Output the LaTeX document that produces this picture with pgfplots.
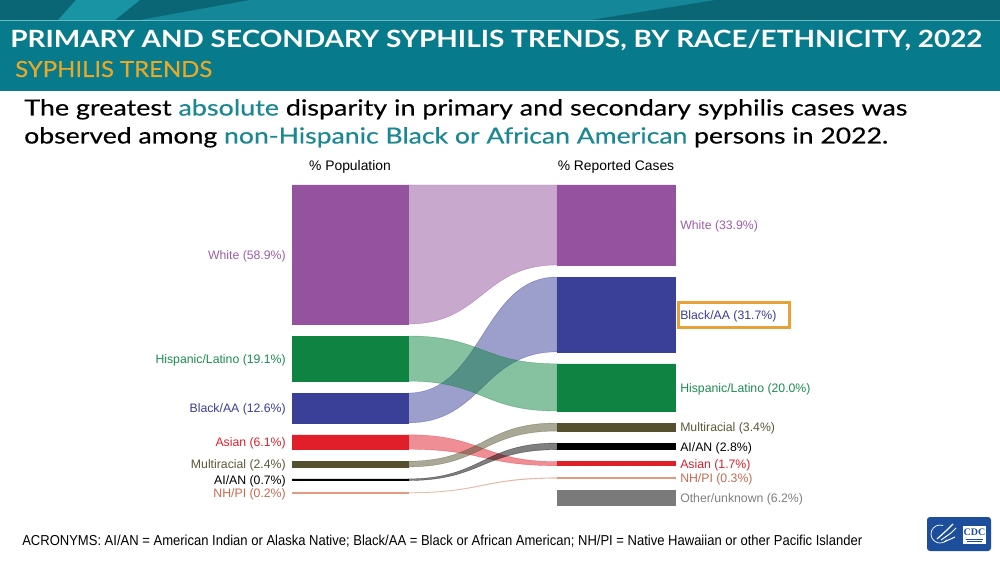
\documentclass[border=0pt]{standalone}
\usepackage{pgfplots}
\pgfplotsset{compat=1.18}
\usepackage{graphicx}
\usepackage{fontspec}
\setmainfont{Liberation Sans}
\newfontfamily\latofont{Lato}
\newfontfamily\latomed[FakeBold=0.35]{Lato}
\newfontfamily\seriffont{Liberation Serif}

% one pixel of the 1000 x 563 canvas
\newdimen\px \px=0.75pt

% colours
\definecolor{hdr}{HTML}{077B8C}
\definecolor{hdrtop}{HTML}{0A6674}
\definecolor{hdrlight}{HTML}{1894A4}
\definecolor{hdrline}{HTML}{6CB9C3}
\definecolor{gold}{HTML}{E9A827}
\definecolor{hlteal}{HTML}{1A8893}
\definecolor{cWhite}{HTML}{95529F}
\definecolor{cHisp}{HTML}{0F8442}
\definecolor{cBlack}{HTML}{3A3F98}
\definecolor{cAsian}{HTML}{E11F2B}
\definecolor{cMulti}{HTML}{55512F}
\definecolor{cAIAN}{HTML}{000000}
\definecolor{cNHPI}{HTML}{E09A82}
\definecolor{cOther}{HTML}{7A7A7A}
\definecolor{lWhite}{HTML}{9C5FA8}
\definecolor{lHisp}{HTML}{1E8C52}
\definecolor{lBlack}{HTML}{3B3F96}
\definecolor{lAsian}{HTML}{D8232F}
\definecolor{lMulti}{HTML}{5B5739}
\definecolor{lNHPI}{HTML}{C66B52}
\definecolor{lOther}{HTML}{808080}
\definecolor{boxor}{HTML}{E8A137}
\definecolor{cdcblue}{HTML}{1C4E9B}

% vertical layout of a sankey column: pixels per percent and gap between nodes
\def\pxper{2.36}
\def\gapy{12}
\newcommand\stackcol[2]{%
  \gdef\cur{185}%
  \foreach \n/\p in {#2} {%
    \pgfmathsetmacro\ta{\cur}%
    \pgfmathsetmacro\tb{\cur+\p*\pxper}%
    \pgfmathsetmacro\tm{(\ta+\tb)/2+1.5}%
    \expandafter\xdef\csname #1\n T\endcsname{\ta}%
    \expandafter\xdef\csname #1\n B\endcsname{\tb}%
    \expandafter\xdef\csname #1\n M\endcsname{\tm}%
    \pgfmathsetmacro\tc{\tb+\gapy}%
    \xdef\cur{\tc}%
  }%
}
% % population (left) and % reported cases (right)
\stackcol{L}{White/58.9, Hisp/19.1, Black/12.6, Asian/6.1, Multi/2.4, AIAN/0.7, NHPI/0.2}
\stackcol{R}{White/33.9, Black/31.7, Hisp/20.0, Multi/3.4, AIAN/2.8, Asian/1.7, NHPI/0.3, Other/6.2}

% a node bar: x-left, x-right, key, colour
\newcommand\sbar[4]{%
  \edef\tmp{\noexpand\addplot[fill=#4, draw=#4, line width=0.3pt] coordinates {(#1,\csname #3T\endcsname) (#2,\csname #3T\endcsname) (#2,\csname #3B\endcsname) (#1,\csname #3B\endcsname) (#1,\csname #3T\endcsname)};}\tmp}

% a flow band from a left node to a right node
\newcommand\flow[3]{%
  \edef\tmp{\noexpand\fill[#3, fill opacity=0.5, draw=#3, draw opacity=0.5, line width=0.3pt]
   (axis cs:408,\csname L#1T\endcsname) .. controls (axis cs:482.5,\csname L#1T\endcsname) and (axis cs:482.5,\csname R#2T\endcsname) .. (axis cs:557,\csname R#2T\endcsname)
   -- (axis cs:557,\csname R#2B\endcsname) .. controls (axis cs:482.5,\csname R#2B\endcsname) and (axis cs:482.5,\csname L#1B\endcsname) .. (axis cs:408,\csname L#1B\endcsname) -- cycle;}\tmp}

\newcommand\lbl{\fontsize{9.2pt}{11pt}\selectfont}
\newcommand\hdrfont{\fontsize{10.4pt}{12pt}\selectfont}

\begin{document}
\begin{tikzpicture}
\begin{axis}[width=750pt, height=422.25pt, scale only axis,
  xmin=0, xmax=1000, ymin=0, ymax=563, y dir=reverse,
  axis lines=none, ticks=none, clip=false]

% background and header band
\fill[white] (axis cs:0,0) rectangle (axis cs:1000,563);
\fill[hdr] (axis cs:0,0) rectangle (axis cs:1000,91);
\fill[hdrtop] (axis cs:0,0) rectangle (axis cs:1000,20);
\fill[hdrlight] (axis cs:58,20) -- (axis cs:76,0) -- (axis cs:140,0) -- (axis cs:115,20) -- cycle;
\fill[hdrlight!75!hdrtop] (axis cs:140,20) -- (axis cs:250,0) -- (axis cs:715,0) -- (axis cs:590,20) -- cycle;
\draw[hdrline, line width=1.2\px] (axis cs:0,20.5) -- (axis cs:1000,20.5);

\node[anchor=base west, inner sep=0pt, text=white] at (axis cs:10,47.5)
  {\resizebox{972\px}{\height}{\latofont\bfseries\fontsize{17.8pt}{20pt}\selectfont PRIMARY AND SECONDARY SYPHILIS TRENDS, BY RACE/ETHNICITY, 2022}};
\node[anchor=base west, inner sep=0pt, text=gold] at (axis cs:15,77)
  {\resizebox{197\px}{\height}{\latomed\fontsize{16.7pt}{19pt}\selectfont SYPHILIS TRENDS}};

% headline
\node[anchor=base west, inner sep=0pt] at (axis cs:24,115.5)
  {\resizebox{883\px}{\height}{\latomed\fontsize{16.6pt}{19pt}\selectfont The greatest \textcolor{hlteal}{absolute} disparity in primary and secondary syphilis cases was}};
\node[anchor=base west, inner sep=0pt] at (axis cs:24,143.5)
  {\resizebox{864\px}{\height}{\latomed\fontsize{16.6pt}{19pt}\selectfont observed among \textcolor{hlteal}{non-Hispanic Black or African American} persons in 2022.}};

% column headings
\node[font=\hdrfont] at (axis cs:350,167) {\% Population};
\node[font=\hdrfont] at (axis cs:616,167) {\% Reported Cases};

% flows
\flow{White}{White}{cWhite}
\flow{Black}{Black}{cBlack}
\flow{Hisp}{Hisp}{cHisp}
\flow{Asian}{Asian}{cAsian}
\flow{Multi}{Multi}{cMulti}
\flow{AIAN}{AIAN}{cAIAN}
\flow{NHPI}{NHPI}{cNHPI}

% left nodes
\sbar{292}{408}{LWhite}{cWhite}
\sbar{292}{408}{LHisp}{cHisp}
\sbar{292}{408}{LBlack}{cBlack}
\sbar{292}{408}{LAsian}{cAsian}
\sbar{292}{408}{LMulti}{cMulti}
\sbar{292}{408}{LAIAN}{cAIAN}
\sbar{292}{408}{LNHPI}{cNHPI}
% right nodes
\sbar{557}{675}{RWhite}{cWhite}
\sbar{557}{675}{RBlack}{cBlack}
\sbar{557}{675}{RHisp}{cHisp}
\sbar{557}{675}{RMulti}{cMulti}
\sbar{557}{675}{RAIAN}{cAIAN}
\sbar{557}{675}{RAsian}{cAsian}
\sbar{557}{675}{RNHPI}{cNHPI}
\sbar{557}{675}{ROther}{cOther}

% left labels
\begin{scope}[every node/.style={anchor=east, inner sep=0pt, font=\lbl}]
\node[text=lWhite] at (axis cs:286,\LWhiteM) {White (58.9\%)};
\node[text=lHisp]  at (axis cs:286,\LHispM)  {Hispanic/Latino (19.1\%)};
\node[text=lBlack] at (axis cs:286,\LBlackM) {Black/AA (12.6\%)};
\node[text=lAsian] at (axis cs:286,\LAsianM) {Asian (6.1\%)};
\node[text=lMulti] at (axis cs:286,\LMultiM) {Multiracial (2.4\%)};
\node[text=black]  at (axis cs:286,\LAIANM)  {AI/AN (0.7\%)};
\node[text=lNHPI]  at (axis cs:286,\LNHPIM)  {NH/PI (0.2\%)};
\end{scope}
% right labels
\begin{scope}[every node/.style={anchor=west, inner sep=0pt, font=\lbl}]
\node[text=lWhite] at (axis cs:680,\RWhiteM) {White (33.9\%)};
\node[text=lBlack] at (axis cs:680,\RBlackM) {Black/AA (31.7\%)};
\node[text=lHisp]  at (axis cs:680,\RHispM)  {Hispanic/Latino (20.0\%)};
\node[text=lMulti] at (axis cs:680,\RMultiM) {Multiracial (3.4\%)};
\node[text=black]  at (axis cs:680,\RAIANM)  {AI/AN (2.8\%)};
\node[text=lAsian] at (axis cs:680,\RAsianM) {Asian (1.7\%)};
\node[text=lNHPI]  at (axis cs:680,\RNHPIM)  {NH/PI (0.3\%)};
\node[text=lOther] at (axis cs:680,\ROtherM) {Other/unknown (6.2\%)};
\end{scope}
\draw[boxor, line width=3\px] (axis cs:678,302.5) rectangle (axis cs:789,327);

% footnote
\node[anchor=base west, inner sep=0pt] at (axis cs:22,545.5)
  {\resizebox{840\px}{\height}{\fontsize{10.8pt}{12pt}\selectfont ACRONYMS: AI/AN = American Indian or Alaska Native; Black/AA = Black or African American; NH/PI = Native Hawaiian or other Pacific Islander}};

% agency mark
\fill[cdcblue, rounded corners=3\px] (axis cs:927,517) rectangle (axis cs:991,551);
\draw[white, line width=0.7\px] (axis cs:940,534) ++(70:9\px) arc[start angle=70, end angle=320, radius=9\px];
\draw[white, line width=1.2\px] (axis cs:937,539) -- (axis cs:947,530) -- (axis cs:953,524);
\draw[white, line width=1.0\px] (axis cs:941,540) -- (axis cs:951,533) -- (axis cs:956,528);
\draw[white, line width=1.0\px] (axis cs:944,542) -- (axis cs:955,537);
\fill[white] (axis cs:963,526) rectangle (axis cs:986,544);
\node[text=cdcblue, inner sep=0pt] at (axis cs:974.5,532.5) {\seriffont\bfseries\fontsize{7.5pt}{8pt}\selectfont CDC};
\draw[cdcblue, line width=0.4\px] (axis cs:966,539) -- (axis cs:983,539);
\draw[cdcblue, line width=0.4\px] (axis cs:967,541) -- (axis cs:982,541);
\end{axis}
\pgfresetboundingbox
\path[use as bounding box] (0,0) rectangle (750pt,422.25pt);
\end{tikzpicture}
\end{document}
